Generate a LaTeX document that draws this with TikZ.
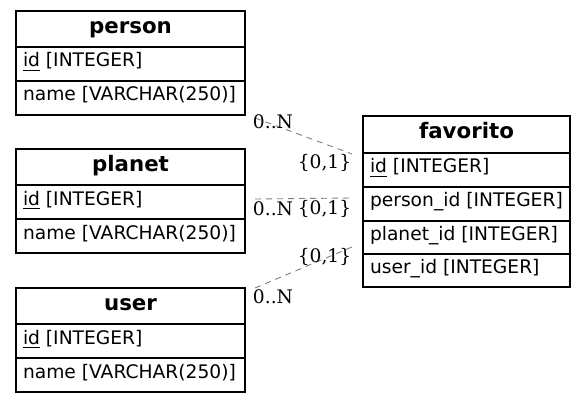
\documentclass[tikz,border=0pt]{standalone}
\usepackage{fontspec}
\setmainfont{DejaVu Sans}
\newfontfamily\cardfont{DejaVu Serif}
\usetikzlibrary{calc}

% primary key: text with a thin rule beneath it
\newcommand\pkey[1]{\setbox0\hbox{#1}\rlap{\rule[-3.6pt]{\wd0}{0.8pt}}\box0}

\tikzset{
  tbl/.style={draw=black, line width=1.1pt, inner xsep=7pt, inner ysep=0pt,
    outer sep=0pt, anchor=north west, font=\fontsize{18.67pt}{22pt}\selectfont},
  thead/.style={tbl, text height=22.5pt, text depth=13.5pt,
    font=\fontsize{21.33pt}{24pt}\selectfont\bfseries},
  trow/.style={tbl, text height=20pt, text depth=14pt},
  rel/.style={draw=gray, line width=0.9pt, dash pattern=on 6pt off 5pt},
  card/.style={inner sep=0pt, anchor=base, text=black,
    font=\cardfont\fontsize{18.67pt}{22pt}\selectfont}
}
% cell contents of fixed width: centred title or left-aligned field
\newcommand\ttitle[2]{\makebox[#1][c]{#2}}
\newcommand\tfield[2]{\makebox[#1][l]{#2}}

\begin{document}
\begin{tikzpicture}[x=1pt,y=-1pt]
\useasboundingbox (0,0) rectangle (585,403);
\fill[white] (0,0) rectangle (585,403);

% person
\node[thead] (person) at (16,11) {\ttitle{215pt}{person}};
\node[trow] (person-id) at (person.south west) {\tfield{215pt}{\pkey{id}\ [INTEGER]}};
\node[trow] (person-name) at (person-id.south west) {\tfield{215pt}{name [VARCHAR(250)]}};

% planet
\node[thead] (planet) at (16,149) {\ttitle{215pt}{planet}};
\node[trow] (planet-id) at (planet.south west) {\tfield{215pt}{\pkey{id}\ [INTEGER]}};
\node[trow] (planet-name) at (planet-id.south west) {\tfield{215pt}{name [VARCHAR(250)]}};

% user
\node[thead] (user) at (16,288) {\ttitle{215pt}{user}};
\node[trow] (user-id) at (user.south west) {\tfield{215pt}{\pkey{id}\ [INTEGER]}};
\node[trow] (user-name) at (user-id.south west) {\tfield{215pt}{name [VARCHAR(250)]}};

% favorito
\node[thead, text height=23pt, text depth=14pt] (fav) at (363,116) {\ttitle{193pt}{favorito}};
\node[trow] (fav-id) at (fav.south west) {\tfield{193pt}{\pkey{id}\ [INTEGER]}};
\node[trow] (fav-person) at (fav-id.south west) {\tfield{193pt}{person\_id [INTEGER]}};
\node[trow, text height=19.5pt, text depth=13.5pt] (fav-planet) at (fav-person.south west) {\tfield{193pt}{planet\_id [INTEGER]}};
\node[trow, text height=19.5pt, text depth=13.5pt] (fav-user) at (fav-planet.south west) {\tfield{193pt}{user\_id [INTEGER]}};

% relationship end points
\coordinate (r1a) at (255,118);
\coordinate (r1b) at (352,154);
\coordinate (r2a) at (255,199);
\coordinate (r2b) at (352,198);
\coordinate (r3a) at (255,288);
\coordinate (r3b) at (352,247);

\draw[rel] (r1a) -- (r1b);
\draw[rel] (r2a) -- (r2b);
\draw[rel] (r3a) -- (r3b);

% cardinalities
\node[card] (c1a) at (273,129) {0..N};
\node[card] (c1b) at (324.5,169) {\{0,1\}};
\node[card] (c2a) at (273,215) {0..N};
\node[card] (c2b) at (324.5,214) {\{0,1\}};
\node[card] (c3a) at (273,303) {0..N};
\node[card] (c3b) at (324.5,262) {\{0,1\}};
\end{tikzpicture}
\end{document}
